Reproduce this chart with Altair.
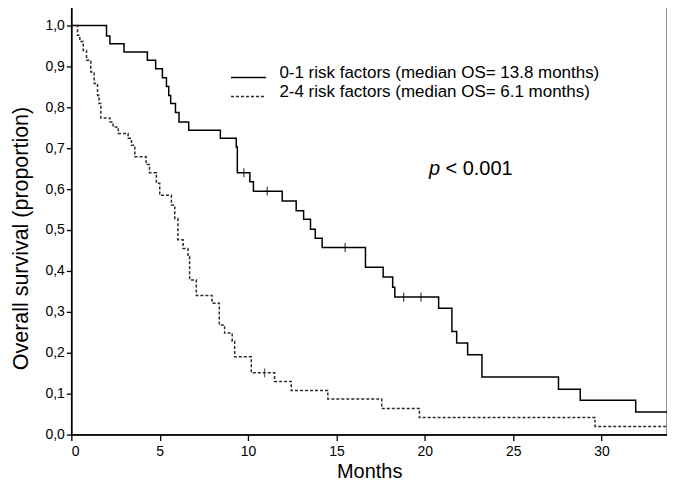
import altair as alt
import pandas as pd

# ---- data ----
group_labels = [
    "0-1 risk factors (median OS= 13.8 months)",
    "2-4 risk factors (median OS= 6.1 months)",
]

low_time = [0, 1.99, 2.18, 2.98, 4.30, 4.77, 5.15, 5.38, 5.51, 5.62, 5.89, 6.09, 6.64,
            8.43, 9.33, 9.39, 10.10, 10.30, 11.93, 12.72, 13.14, 13.53, 13.80, 14.19,
            16.64, 17.64, 18.18, 18.30, 20.78, 21.53, 21.80, 22.42, 23.23, 27.56, 28.79,
            31.93, 33.7]
low_surv = [1.0, 0.974, 0.955, 0.935, 0.915, 0.894, 0.872, 0.851, 0.829, 0.809, 0.787,
            0.764, 0.744, 0.724, 0.703, 0.640, 0.618, 0.595, 0.571, 0.547, 0.526, 0.502,
            0.480, 0.457, 0.409, 0.385, 0.360, 0.336, 0.309, 0.252, 0.224, 0.195, 0.141,
            0.111, 0.084, 0.055, 0.055]

high_time = [0, 0.35, 0.48, 0.67, 0.86, 1.10, 1.29, 1.48, 1.57, 1.67, 2.18, 2.36, 2.65,
             3.21, 3.40, 3.59, 4.23, 4.42, 4.81, 5.00, 5.66, 5.85, 6.03, 6.32, 6.60,
             6.69, 7.07, 7.96, 8.37, 8.67, 9.10, 9.24, 10.18, 11.50, 12.44, 14.51,
             17.56, 19.69, 29.63, 33.7]
high_surv = [1.0, 0.976, 0.961, 0.939, 0.915, 0.886, 0.858, 0.829, 0.809, 0.774, 0.764,
             0.752, 0.736, 0.724, 0.707, 0.679, 0.660, 0.640, 0.614, 0.585, 0.561, 0.528,
             0.476, 0.455, 0.435, 0.378, 0.340, 0.321, 0.268, 0.248, 0.228, 0.190, 0.151,
             0.130, 0.108, 0.087, 0.064, 0.042, 0.020, 0.020]

low_censored = [9.76, 11.08, 15.49, 18.80, 19.78]
high_censored = [10.93]

x_ticks = [0, 5, 10, 15, 20, 25, 30]
y_ticks = [0.0, 0.1, 0.2, 0.3, 0.4, 0.5, 0.6, 0.7, 0.8, 0.9, 1.0]
x_max = 33.7
y_max = 1.051


def surv_at(times, survs, t):
    val = survs[0]
    for ti, si in zip(times, survs):
        if ti <= t:
            val = si
    return val


lines = pd.concat([
    pd.DataFrame({"t": low_time, "s": low_surv, "group": group_labels[0]}),
    pd.DataFrame({"t": high_time, "s": high_surv, "group": group_labels[1]}),
])
cens = pd.concat([
    pd.DataFrame({"t": low_censored,
                  "s": [surv_at(low_time, low_surv, t) for t in low_censored],
                  "group": group_labels[0]}),
    pd.DataFrame({"t": high_censored,
                  "s": [surv_at(high_time, high_surv, t) for t in high_censored],
                  "group": group_labels[1]}),
])

FONT = "Liberation Sans"

xscale = alt.Scale(domain=[0, x_max], nice=False, zero=False)
yscale = alt.Scale(domain=[0, y_max], nice=False)

x_axis = alt.Axis(values=x_ticks, format="d", title="Months", grid=False,
                  labelFontSize=14, titleFontSize=20, titleFontWeight="normal",
                  tickSize=6, labelPadding=4, titlePadding=3)
y_axis = alt.Axis(values=y_ticks, title="Overall survival (proportion)", grid=False,
                  labelExpr="replace(format(datum.value, '.1f'), '.', ',')",
                  labelFontSize=14, titleFontSize=21.5, titleFontWeight="normal",
                  tickSize=5, labelPadding=2, titlePadding=12, titleY=234)

legend = alt.Legend(title=None, orient="none", legendX=169, legendY=64.7,
                    symbolType="M-3.5,0H3.5", symbolSize=100, symbolStrokeWidth=1.5,
                    labelFontSize=17, labelOffset=22.5, labelBaseline="alphabetic",
                    labelLimit=500, rowPadding=1, padding=0, labelColor="black")

color = alt.Color("group:N", scale=alt.Scale(domain=group_labels,
                                             range=["#000000", "#2a2a2a"]),
                  legend=legend)
dash = alt.StrokeDash("group:N", scale=alt.Scale(domain=group_labels,
                                                 range=[[1, 0], [3, 2]]),
                      legend=legend)

curves = alt.Chart(lines).mark_line(interpolate="step-after", strokeWidth=1.5,
                                    clip=True).encode(
    x=alt.X("t:Q", scale=xscale, axis=x_axis),
    y=alt.Y("s:Q", scale=yscale, axis=y_axis),
    color=color,
    strokeDash=dash,
)

ticks = alt.Chart(cens).mark_tick(orient="vertical", size=9, thickness=1.3).encode(
    x=alt.X("t:Q", scale=xscale),
    y=alt.Y("s:Q", scale=yscale),
    color=alt.Color("group:N", scale=alt.Scale(domain=group_labels,
                                               range=["#000000", "#2a2a2a"]),
                    legend=None),
)

p_italic = alt.Chart(pd.DataFrame({"txt": ["p"]})).mark_text(
    fontSize=20, fontStyle="italic", font=FONT, align="left", baseline="alphabetic",
    color="black").encode(x=alt.value(358.5), y=alt.value(171), text="txt:N")
p_rest = alt.Chart(pd.DataFrame({"txt": ["< 0.001"]})).mark_text(
    fontSize=20, font=FONT, align="left", baseline="alphabetic",
    color="black").encode(x=alt.value(375), y=alt.value(171), text="txt:N")

chart = alt.layer(curves, ticks, p_italic, p_rest).properties(
    width=597, height=431,
    autosize=alt.AutoSizeParams(type="none"),
    padding={"left": 63.5, "top": -4, "right": 0, "bottom": 54},
    background="white",
).configure_view(
    stroke="#111111", strokeWidth=1.3
).configure_axis(
    domainColor="black", domainWidth=1.5, tickColor="black", tickWidth=1.3,
    labelColor="black", titleColor="black", labelFont=FONT, titleFont=FONT,
).configure_legend(
    labelFont=FONT
)

chart.save("out.html", embed_options={"renderer": "svg", "actions": False})
